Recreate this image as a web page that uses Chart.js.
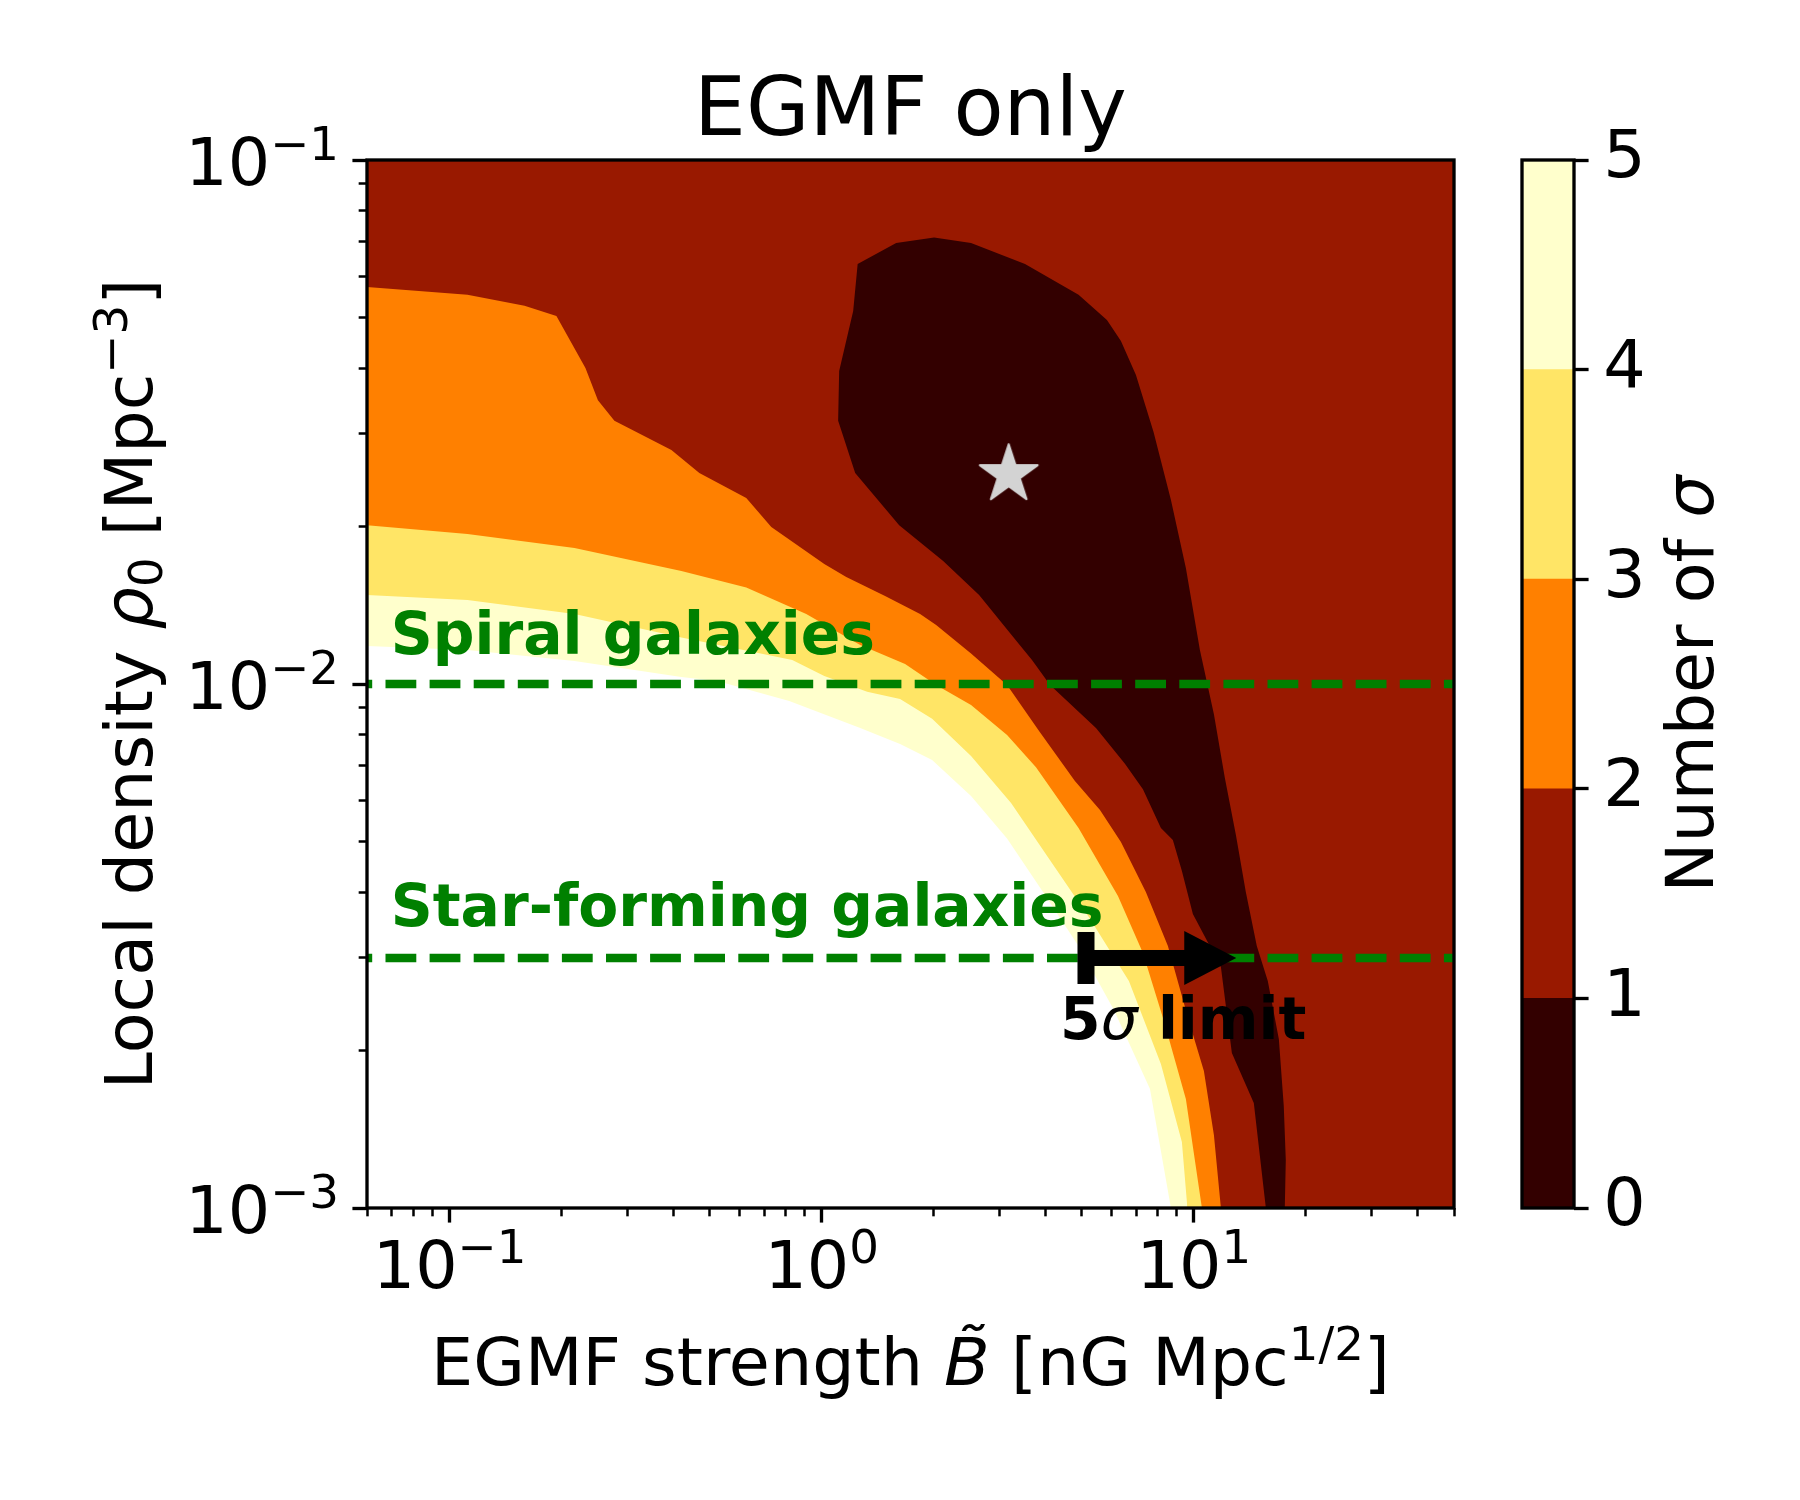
<!DOCTYPE html>
<html>
<head>
<meta charset="utf-8">
<title>EGMF only</title>
<script src="https://cdn.jsdelivr.net/npm/chart.js@4.4.1/dist/chart.umd.min.js"></script>
<style>
  html, body { margin: 0; padding: 0; background: #fff; }
  #wrap { position: relative; width: 1800px; height: 1500px; }
  #main { position: absolute; left: 0; top: 0; }
  #cbar { position: absolute; left: 1512px; top: 0; }
</style>
</head>
<body>
<div id="wrap">
  <canvas id="main" width="1800" height="1500"></canvas>
  <canvas id="cbar" width="288" height="1500"></canvas>
</div>
<script>
const FONT = 'DejaVu Sans';
Chart.defaults.font.family = FONT;
Chart.defaults.color = '#000';

// axis ranges and ticks
const xRange = [0.06, 50];
const yRange = [0.001, 0.1];
const xMajorTicks = [0.1, 1, 10];
const yMajorTicks = [0.001, 0.01, 0.1];
const minorMantissas = [2, 3, 4, 5, 6, 7, 8, 9];

// colour levels (number of sigma)
const levels = [0, 1, 2, 3, 4, 5];
const levelColors = ['#330000', '#991900', '#ff8000', '#ffe566', '#ffffcc'];

// contour lines: B (nG Mpc^1/2) and rho0 (Mpc^-3)
const sig2B = [0.06, 0.1117, 0.159, 0.1937, 0.2318, 0.2504, 0.2773, 0.3945, 0.469, 0.627, 0.732, 1.016, 1.164, 1.48, 1.838, 2.03, 2.519, 3.148, 3.837, 4.79, 5.594, 6.368, 7.43, 8.516, 9.696, 10.64, 11.32, 11.82];
const sig2Rho = [0.0572, 0.0553, 0.0527, 0.0504, 0.0401, 0.0348, 0.0318, 0.02797, 0.02527, 0.02265, 0.01993, 0.01694, 0.016, 0.01472, 0.0136, 0.01296, 0.01143, 0.00996, 0.00813, 0.00653, 0.00575, 0.004994, 0.004009, 0.003162, 0.002275, 0.001826, 0.001378, 0.001];

const sig3B = [0.06, 0.1117, 0.2166, 0.4196, 0.627, 0.9087, 1.269, 1.675, 2.03, 2.519, 3.148, 3.765, 4.899, 6.252, 7.297, 8.308, 9.517, 10.51];
const sig3Rho = [0.0201, 0.01933, 0.01817, 0.01643, 0.01528, 0.0136, 0.01187, 0.01092, 0.00996, 0.00912, 0.00799, 0.00694, 0.00531, 0.003939, 0.003066, 0.002275, 0.001614, 0.001];

const sig4B = [0.06, 0.1117, 0.2166, 0.4196, 0.6549, 0.8334, 1.016, 1.3245, 1.624, 1.98, 2.519, 3.227, 4.107, 5.226, 6.69, 8.155, 9.286, 9.608];
const sig4Rho = [0.01478, 0.01446, 0.0136, 0.01227, 0.01151, 0.01111, 0.01036, 0.00966, 0.00936, 0.00858, 0.00729, 0.00593, 0.00461, 0.00359, 0.00271, 0.001883, 0.001337, 0.001];

const sig5B = [0.06, 0.1117, 0.2166, 0.4196, 0.5242, 0.818, 1.269, 1.624, 1.98, 2.519, 3.148, 3.932, 4.899, 6.099, 7.619, 8.677];
const sig5Rho = [0.01182, 0.01161, 0.01106, 0.01031, 0.01013, 0.00928, 0.00824, 0.00768, 0.00716, 0.00611, 0.00507, 0.004009, 0.003162, 0.002387, 0.001688, 0.001];

// closed 1 sigma region
const sig1B = [1.114, 1.215, 1.249, 1.585, 2.004, 2.519, 3.518, 4.899, 5.84, 6.368, 6.988, 7.792, 8.677, 9.517, 10.38, 11.32, 12.11, 12.97, 13.79, 14.76, 15.8, 16.92, 17.44, 17.66, 17.55, 15.61, 14.49, 12.65, 11.82, 9.938, 9.286, 8.78, 8.155, 7.297, 6.527, 5.457, 4.107, 3.673, 3.37, 2.648, 2.12, 1.615, 1.23, 1.107];
const sig1Rho = [0.03957, 0.05149, 0.0633, 0.06944, 0.07114, 0.06944, 0.0633, 0.0553, 0.04952, 0.04514, 0.03888, 0.03027, 0.02244, 0.01665, 0.01161, 0.00876, 0.00662, 0.00515, 0.004009, 0.003162, 0.00271, 0.0021, 0.001566, 0.001235, 0.001, 0.001, 0.001587, 0.001976, 0.002884, 0.00364, 0.004395, 0.005038, 0.00531, 0.0063, 0.00704, 0.00824, 0.00996, 0.01111, 0.01197, 0.01478, 0.01717, 0.0201, 0.02527, 0.0318];

const bestFitB = 3.18;
const bestFitRho = 0.0251;
const spiralRho = 0.01;
const starFormRho = 0.003;
const limitB = [5.13, 13.0];
const limitRho = 0.003;

// text anchors (data coords)
const spiralLabel = { B: 0.0695, rho: 0.01143 };
const starLabel = { B: 0.0695, rho: 0.003453 };
const limitLabel = { B: 4.37, rho: 0.002104 };

const toPoints = (xs, ys) => xs.map((x, i) => ({ x: x, y: ys[i] }));

function fontOf(p, size) {
  return (p.it ? 'italic ' : '') + (p.b ? 'bold ' : '') + (size * (p.s || 1)) + 'px "' + FONT + '"';
}
function drawRich(ctx, parts, x, y, size, align) {
  let total = 0;
  const widths = parts.map(p => {
    ctx.font = fontOf(p, size);
    const w = ctx.measureText(p.t).width;
    total += w;
    return w;
  });
  let cx = align === 'center' ? x - total / 2 : align === 'right' ? x - total : x;
  ctx.textAlign = 'left';
  ctx.textBaseline = 'alphabetic';
  parts.forEach((p, i) => {
    ctx.font = fontOf(p, size);
    ctx.fillText(p.t, cx, y + (p.dy || 0) * size);
    cx += widths[i];
  });
}
const expParts = e => [{ t: '10' }, { t: (e < 0 ? '\u2212' : '') + Math.abs(e), s: 0.7, dy: -0.375 }];

function makeStar(R, color) {
  const c = document.createElement('canvas');
  const s = Math.ceil(R * 2 + 8);
  c.width = s; c.height = s;
  const g = c.getContext('2d');
  const r = R * 0.381966;
  g.beginPath();
  for (let i = 0; i < 10; i++) {
    const a = -Math.PI / 2 + i * Math.PI / 5;
    const rr = i % 2 ? r : R;
    g.lineTo(s / 2 + rr * Math.cos(a), s / 2 + rr * Math.sin(a));
  }
  g.closePath();
  g.fillStyle = color;
  g.fill();
  g.lineJoin = 'round';
  g.lineWidth = 2;
  g.strokeStyle = color;
  g.stroke();
  return c;
}

function logTicks(range) {
  const out = [];
  const e0 = Math.floor(Math.log10(range[0])), e1 = Math.ceil(Math.log10(range[1]));
  for (let e = e0; e <= e1; e++) {
    [1].concat(minorMantissas).forEach(m => {
      const v = m * Math.pow(10, e);
      if (v >= range[0] * 0.999999 && v <= range[1] * 1.000001) out.push({ value: v, major: m === 1 });
    });
  }
  return out;
}

const MAJ_LEN = 14.58, MIN_LEN = 8.33;
const tickGrid = side => ({
  drawOnChartArea: false,
  drawTicks: true,
  tickLength: MAJ_LEN,
  tickColor: '#000',
  tickWidth: c => (c.tick && c.tick.major) ? 3.33 : 2.5,
  tickBorderDash: c => (c.tick && c.tick.major) ? [] :
    (side === 'x' ? [MIN_LEN, 40] : [0, MAJ_LEN - MIN_LEN, MIN_LEN, 40])
});

const region = (xs, ys, color, order, fill) => ({
  data: toPoints(xs, ys), backgroundColor: color, borderWidth: 0,
  fill: fill || 'start', pointRadius: 0, order: order
});
const dashed = (rho, order) => ({
  data: [{ x: xRange[0], y: rho }, { x: xRange[1], y: rho }],
  borderColor: '#008000', borderWidth: 8.33, borderDash: [30.8, 13.3], borderDashOffset: 25.6,
  borderCapStyle: 'butt', fill: false, pointRadius: 0, order: order
});

const mainDecor = {
  id: 'mainDecor',
  afterDatasetsDraw(chart) {
    const ctx = chart.ctx, a = chart.chartArea;
    const xs = chart.scales.x, ys = chart.scales.y;
    ctx.save();
    // annotations
    ctx.fillStyle = '#008000';
    drawRich(ctx, [{ t: 'Spiral galaxies', b: true }], xs.getPixelForValue(spiralLabel.B), ys.getPixelForValue(spiralLabel.rho), 58.3, 'left');
    drawRich(ctx, [{ t: 'Star-forming galaxies', b: true }], xs.getPixelForValue(starLabel.B), ys.getPixelForValue(starLabel.rho), 58.3, 'left');
    ctx.fillStyle = '#000';
    drawRich(ctx, [{ t: '5', b: true }, { t: '\u03c3', it: true }, { t: ' limit', b: true }], xs.getPixelForValue(limitLabel.B), ys.getPixelForValue(limitLabel.rho), 58.3, 'left');
    // 5 sigma limit arrow
    const x0 = xs.getPixelForValue(limitB[0]), x1 = xs.getPixelForValue(limitB[1]), yy = ys.getPixelForValue(limitRho);
    ctx.fillRect(x0 - 8.5, yy - 26, 17, 52);
    ctx.fillRect(x0, yy - 8, x1 - 52 - x0 + 2, 16);
    ctx.beginPath();
    ctx.moveTo(x1, yy);
    ctx.lineTo(x1 - 52, yy - 27);
    ctx.lineTo(x1 - 52, yy + 27);
    ctx.closePath();
    ctx.fill();
    // frame
    ctx.strokeStyle = '#000';
    ctx.lineWidth = 3.33;
    ctx.strokeRect(a.left, a.top, a.right - a.left, a.bottom - a.top);
    ctx.restore();
  },
  afterDraw(chart) {
    const ctx = chart.ctx, a = chart.chartArea;
    const xs = chart.scales.x, ys = chart.scales.y;
    ctx.save();
    ctx.fillStyle = '#000';
    xMajorTicks.forEach(v => {
      drawRich(ctx, expParts(Math.round(Math.log10(v))), xs.getPixelForValue(v), a.bottom + 80, 66.7, 'center');
    });
    yMajorTicks.forEach(v => {
      drawRich(ctx, expParts(Math.round(Math.log10(v))), a.left - 28, ys.getPixelForValue(v) + 25, 66.7, 'right');
    });
    // axis titles
    drawRich(ctx, [{ t: 'EGMF strength ' }, { t: 'B\u0303', it: true }, { t: ' [nG Mpc' }, { t: '1/2', s: 0.7, dy: -0.375 }, { t: ']' }],
      (a.left + a.right) / 2, 1385, 66.7, 'center');
    ctx.save();
    ctx.translate(152, (a.top + a.bottom) / 2);
    ctx.rotate(-Math.PI / 2);
    drawRich(ctx, [{ t: 'Local density ' }, { t: '\u03c1', it: true }, { t: '0', s: 0.7, dy: 0.15 }, { t: ' [Mpc' }, { t: '\u22123', s: 0.7, dy: -0.375 }, { t: ']' }],
      0, 0, 66.7, 'center');
    ctx.restore();
    drawRich(ctx, [{ t: 'EGMF only' }], (a.left + a.right) / 2, 135, 82, 'center');
    ctx.restore();
  }
};

new Chart(document.getElementById('main'), {
  type: 'line',
  data: {
    datasets: [
      { data: [{ x: bestFitB, y: bestFitRho }], pointStyle: makeStar(30.4, '#d3d3d3'), pointRadius: 30, showLine: false, order: 1 },
      dashed(starFormRho, 4),
      dashed(spiralRho, 5),
      region(sig1B, sig1Rho, levelColors[0], 15, 'shape'),
      region(sig5B, sig5Rho, '#ffffff', 16),
      region(sig4B, sig4Rho, levelColors[4], 17),
      region(sig3B, sig3Rho, levelColors[3], 18),
      region(sig2B, sig2Rho, levelColors[2], 19),
      region(xRange, [yRange[1], yRange[1]], levelColors[1], 20)
    ]
  },
  options: {
    responsive: false,
    animation: false,
    devicePixelRatio: 1,
    events: [],
    layout: { padding: { left: 0, top: 160, right: 346, bottom: 0 } },
    plugins: { legend: { display: false }, tooltip: { enabled: false } },
    elements: { line: { tension: 0 } },
    scales: {
      x: {
        type: 'logarithmic', min: xRange[0], max: xRange[1],
        afterBuildTicks: s => { s.ticks = logTicks(xRange); },
        afterFit: s => { s.height = 292; },
        ticks: { display: false, autoSkip: false },
        grid: tickGrid('x'),
        border: { display: false }
      },
      y: {
        type: 'logarithmic', min: yRange[0], max: yRange[1],
        afterBuildTicks: s => { s.ticks = logTicks(yRange); },
        afterFit: s => { s.width = 367; },
        ticks: { display: false, autoSkip: false },
        grid: tickGrid('y'),
        border: { display: false }
      }
    }
  },
  plugins: [mainDecor]
});

// colour bar
const cbarDecor = {
  id: 'cbarDecor',
  afterDraw(chart) {
    const ctx = chart.ctx, a = chart.chartArea;
    ctx.save();
    ctx.strokeStyle = '#000';
    ctx.lineWidth = 3.33;
    ctx.strokeRect(a.left, a.top, a.right - a.left, a.bottom - a.top);
    ctx.fillStyle = '#000';
    ctx.translate(201, (a.top + a.bottom) / 2);
    ctx.rotate(-Math.PI / 2);
    drawRich(ctx, [{ t: 'Number of ' }, { t: '\u03c3', it: true }], 0, 0, 66.7, 'center');
    ctx.restore();
  }
};

new Chart(document.getElementById('cbar'), {
  type: 'bar',
  data: {
    labels: [''],
    datasets: levelColors.map((c, i) => ({
      data: [levels[i + 1] - levels[i]], backgroundColor: c, borderWidth: 0,
      barPercentage: 1, categoryPercentage: 1
    }))
  },
  options: {
    responsive: false,
    animation: false,
    devicePixelRatio: 1,
    events: [],
    layout: { padding: { left: 10, top: 160, right: 0, bottom: 292 } },
    plugins: { legend: { display: false }, tooltip: { enabled: false } },
    scales: {
      x: { stacked: true, display: false },
      y: {
        stacked: true, position: 'right', min: levels[0], max: levels[levels.length - 1],
        afterBuildTicks: s => { s.ticks = levels.map(v => ({ value: v, major: true })); },
        afterFit: s => { s.width = 226; },
        ticks: { font: { size: 66.7 }, color: '#000', padding: 14.6 },
        grid: { drawOnChartArea: false, tickLength: 14.58, tickWidth: 3.33, tickColor: '#000' },
        border: { display: false }
      }
    }
  },
  plugins: [cbarDecor]
});
</script>
</body>
</html>
